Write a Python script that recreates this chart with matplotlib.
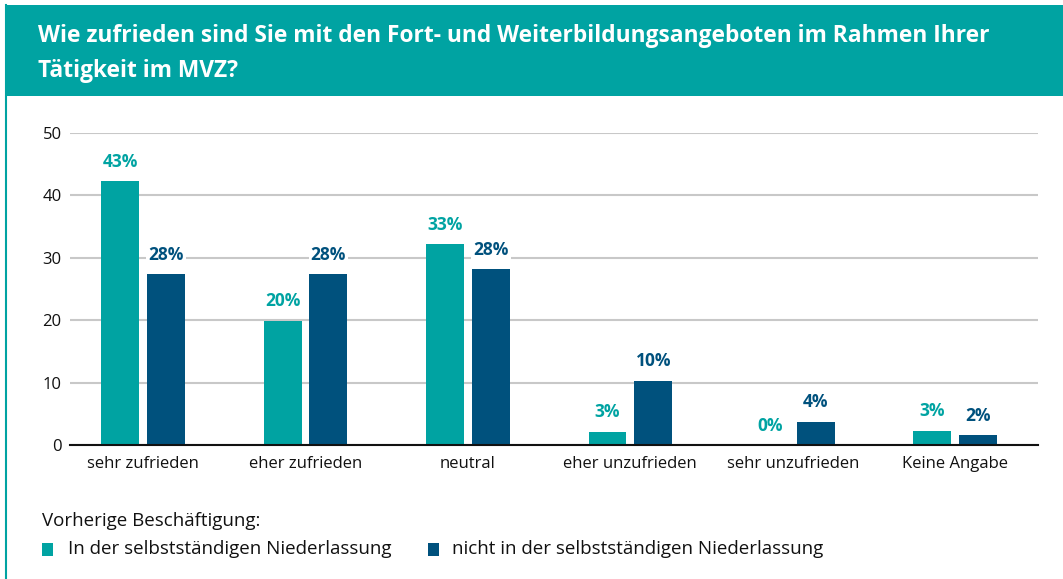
import matplotlib.pyplot as plt
from matplotlib.lines import Line2D
from matplotlib.patches import Rectangle

# Daten
categories = ["sehr zufrieden", "eher zufrieden", "neutral",
              "eher unzufrieden", "sehr unzufrieden", "Keine Angabe"]
werte_niederlassung = [42.3, 19.9, 32.2, 2.1, 0.0, 2.3]
werte_nicht_niederlassung = [27.4, 27.4, 28.2, 10.3, 3.7, 1.6]
labels_niederlassung = ["43%", "20%", "33%", "3%", "0%", "3%"]
labels_nicht_niederlassung = ["28%", "28%", "28%", "10%", "4%", "2%"]
serien = ["In der selbstständigen Niederlassung",
          "nicht in der selbstständigen Niederlassung"]
yticks = [0, 10, 20, 30, 40, 50]

TEAL = "#00a3a2"
BLAU = "#00517d"

plt.rcParams['font.family'] = ['Open Sans', 'DejaVu Sans']

W, H = 1063, 579
fig = plt.figure(figsize=(W / 100, H / 100), dpi=100)

# Rahmen links und Kopfband
fig.add_artist(Line2D([5.5 / W, 5.5 / W], [0, 1 - 5 / H], transform=fig.transFigure,
                      color=TEAL, linewidth=1.5, zorder=-2))
fig.add_artist(Rectangle((5 / W, 1 - 96 / H), 1 - 5 / W, 91 / H, transform=fig.transFigure,
                         facecolor=TEAL, edgecolor="none", zorder=-1))
fig.text(38 / W, 1 - 36 / H,
         "Wie zufrieden sind Sie mit den Fort- und Weiterbildungsangeboten im Rahmen Ihrer",
         color="white", fontsize=16.4, fontweight="bold", va="center", ha="left")
fig.text(38 / W, 1 - 71 / H, "Tätigkeit im MVZ?",
         color="white", fontsize=16.4, fontweight="bold", va="center", ha="left")

ax = fig.add_axes([70 / W, 1 - 445 / H, (1038 - 70) / W, (445 - 133) / H])
ax.patch.set_alpha(0)
x = list(range(len(categories)))
breite = 0.233
versatz = 0.141
b1 = ax.bar([i - versatz for i in x], werte_niederlassung, width=breite, color=TEAL, zorder=3)
b2 = ax.bar([i + versatz for i in x], werte_nicht_niederlassung, width=breite, color=BLAU, zorder=3)

for bars, labels, farbe in [(b1, labels_niederlassung, TEAL), (b2, labels_nicht_niederlassung, BLAU)]:
    for bar, lab in zip(bars, labels):
        ax.annotate(lab, (bar.get_x() + bar.get_width() / 2, bar.get_height()),
                    xytext=(0, 14), textcoords="offset points", ha="center", va="center",
                    color=farbe, fontsize=12.5, fontweight="bold", zorder=4,
                    bbox=dict(facecolor="white", edgecolor="none", pad=1.5))

ax.set_xlim(-0.45, 5.51)
ax.set_ylim(0, 50)
ax.set_yticks(yticks)
ax.set_xticks(x)
ax.set_xticklabels(categories)
ax.tick_params(axis="both", length=0, labelsize=12, colors="#111111")
ax.tick_params(axis="y", pad=6)
ax.tick_params(axis="x", pad=8)
ax.grid(axis="y", color="#c8c8c8", linewidth=1.5, zorder=0)
for s in ["top", "right", "left"]:
    ax.spines[s].set_visible(False)
ax.spines["bottom"].set_color("#111111")
ax.spines["bottom"].set_linewidth(1.5)
ax.spines["bottom"].set_zorder(5)

# Legende
fig.text(42 / W, 1 - 521 / H, "Vorherige Beschäftigung:", fontsize=13.5,
         color="#111111", va="center", ha="left")
for (x0, tx), farbe, name in zip([(42, 68), (428, 452)], [TEAL, BLAU], serien):
    fig.add_artist(Rectangle((x0 / W, 1 - 556 / H), 11 / W, 13 / H,
                             transform=fig.transFigure, facecolor=farbe, edgecolor="none"))
    fig.text(tx / W, 1 - 549 / H, name, fontsize=13.5, color="#111111",
             va="center", ha="left")

fig.savefig("out.png", dpi=100)
